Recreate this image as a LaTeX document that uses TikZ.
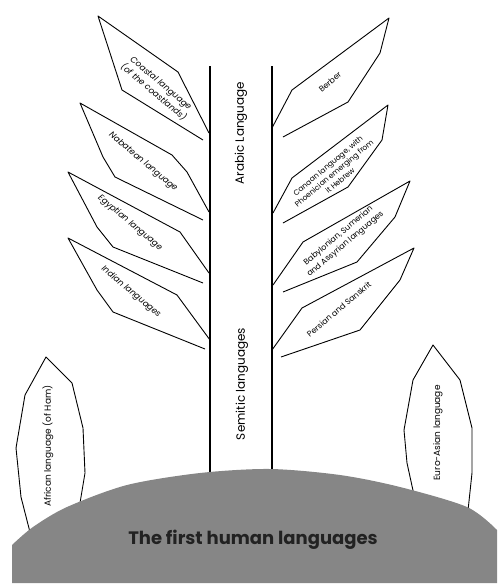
\documentclass[tikz,border=0pt]{standalone}
\usepackage{fontspec}
\setmainfont{Poppins}
\definecolor{hillgray}{RGB}{134,134,134}
\definecolor{ink}{RGB}{34,34,34}
\tikzset{
    LF/.style ={draw, line width=0.9pt, line join=round},
    ST/.style ={draw, line width=1.2pt},
    LX/.style ={font=\fontsize{8.5}{11.5}\selectfont\itshape, align=center, rotate=-40, inner sep=1pt},
    RX/.style ={font=\fontsize{8}{11}\selectfont, align=center, rotate=40, inner sep=1pt},
    TX/.style ={font=\fontsize{12}{14}\selectfont, rotate=90},
    SM/.style ={font=\fontsize{9}{10}\selectfont, rotate=90},
    HL/.style ={fill=hillgray, draw=none}}
\begin{document}
\begin{tikzpicture}[x=1pt,y=-1pt]
        \useasboundingbox (0,0) rectangle (500,587);
        % small leaves (hidden under the hill at their feet)
        \draw[LF] (32,540) -- (21,497) -- (16,448) -- (25,395) -- (46,357) -- (72,383) -- (83,428) -- (85,473) -- (78,515);
        \draw[LF] (414,495) -- (407,463) -- (404,430) -- (413,380) -- (433,345) -- (460,380) -- (472,428) -- (472,473) -- (467,520);
        % trunk
        \coordinate (tl) at (210,66);
        \coordinate (bl) at (210,490);
        \coordinate (tr) at (272,66);
        \coordinate (br) at (272,490);
        \draw[ST] (tl) -- (bl);
        \draw[ST] (tr) -- (br);
        % left leaves
        \draw[LF] (209,133) -- (178,72) -- (98,16) -- (122,90) -- (203,140);
        \draw[LF] (209,212) -- (187,172) -- (172,155) -- (80,103) -- (103,157) -- (115,177) -- (203,220);
        \draw[LF] (209,273) -- (180,232) -- (68,172) -- (97,227) -- (113,247) -- (203,283);
        \draw[LF] (210,340) -- (177,295) -- (68,238) -- (97,290) -- (113,312) -- (205,349);
        % right leaves
        \draw[LF] (272,128) -- (292,90) -- (389,18) -- (380,53) -- (348,102) -- (283,137);
        \draw[LF] (273,213) -- (292,178) -- (388,105) -- (382,140) -- (348,187) -- (283,223);
        \draw[LF] (273,285) -- (303,242) -- (410,181) -- (395,217) -- (357,262) -- (283,292);
        \draw[LF] (272,350) -- (302,308) -- (414,248) -- (400,280) -- (360,330) -- (281,357);
        % hill
        \fill[HL] (12,583) -- plot[smooth] coordinates {(12,545) (33,527) (67,507) (127,485) (200,473) (270,469) (340,475) (400,487) (467,507) (497,530)} -- (497,583) -- cycle;
        % labels
        \node[LX] (coast) at (157,88) {Coastal language\\(of the coastlands)};
        \node[LX] (nabat) at (143,162) {Nabatean language};
        \node[LX] (egypt) at (130,223) {Egyptian language};
        \node[LX] (india) at (131,292) {Indian languages};
        \node[RX] (berber) at (330,82) {Berber};
        \node[RX, font=\fontsize{7.5}{9.5}\selectfont] (canaan) at (334,173) {Canaan language, with\\Phoenician emerging from\\it Hebrew};
        \node[RX] (babyl) at (342,240) {Babylonian, Sumerian\\and Assyrian languages};
        \node[RX] (persia) at (339,309) {Persian and Sanskrit};
        \node[TX] (arabic) at (241,133) {Arabic Language};
        \node[TX] (semit) at (242,384) {Semitic languages};
        \node[SM] (afric) at (48,446) {African language (of Ham)};
        \node[SM] (euro) at (438,433) {Euro-Asian language};
        \node[font=\fontsize{18}{20}\selectfont\bfseries, text=ink] (first) at (253,540) {The first human languages};
    \end{tikzpicture}
\end{document}
